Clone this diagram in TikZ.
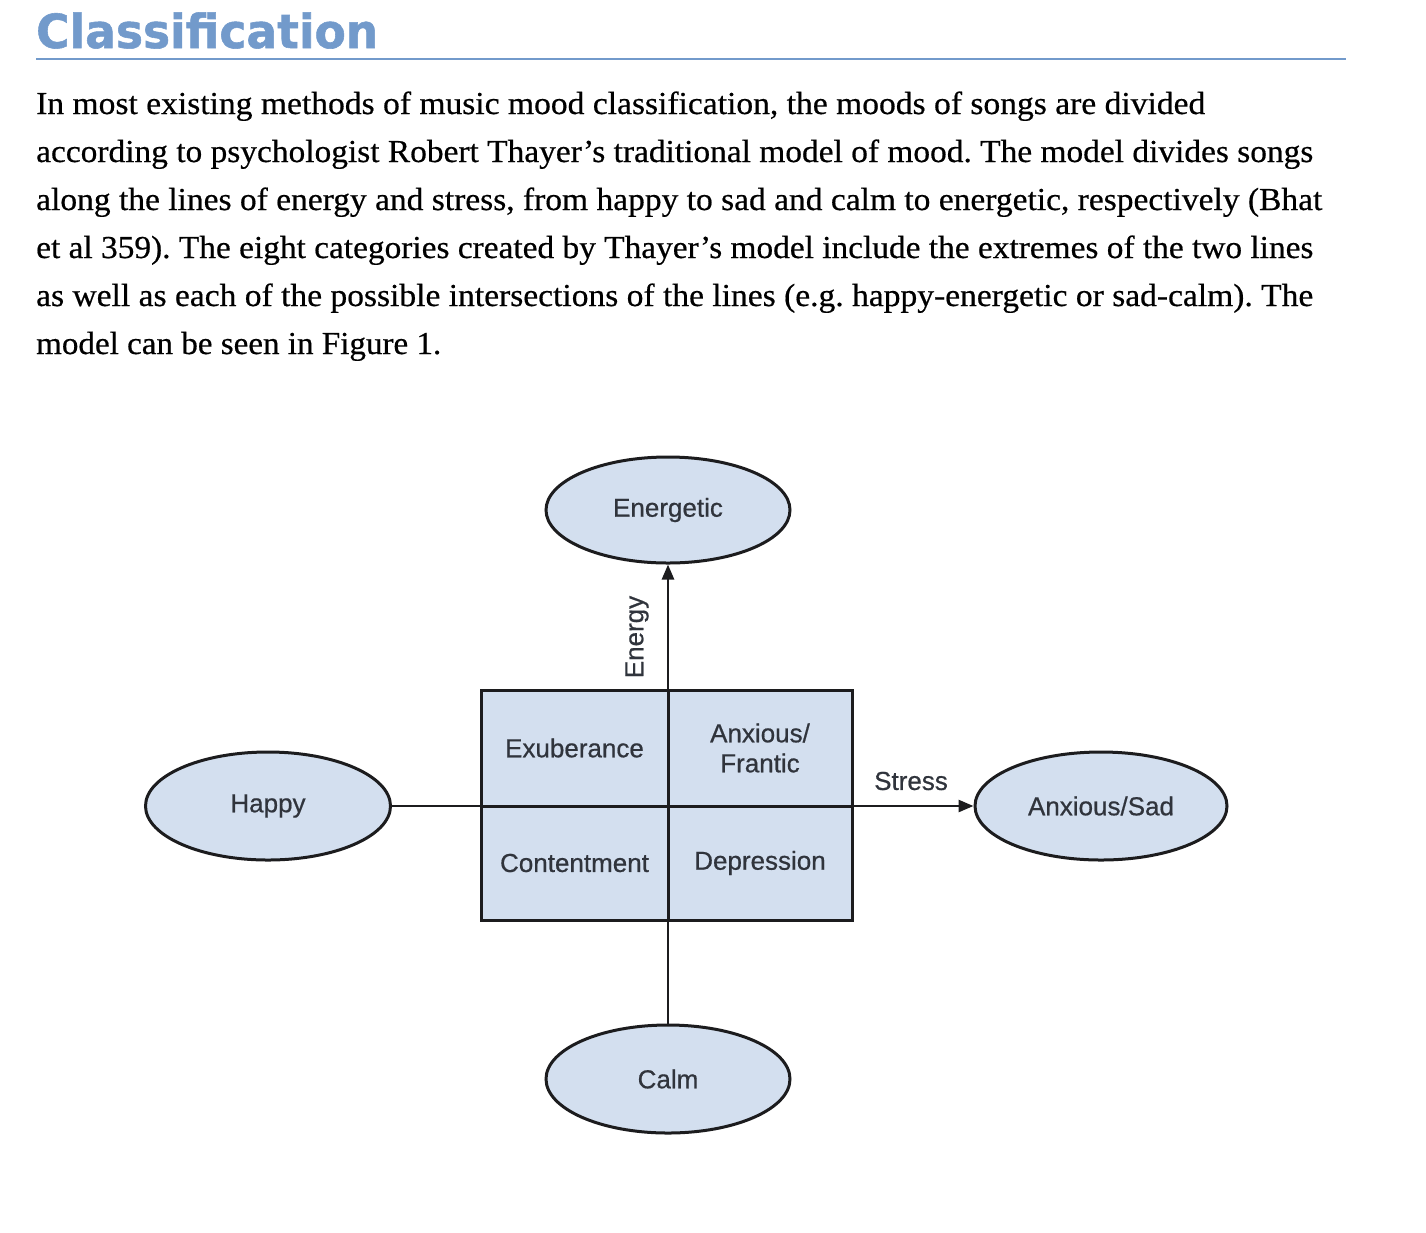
\documentclass[tikz,border=0pt]{standalone}
\usepackage{fontspec}
\usepackage{graphicx}
\usetikzlibrary{shapes.geometric,arrows.meta}
\setmainfont[FakeBold=0.5]{Liberation Serif}
\newfontfamily\titlefont[FakeBold=1.2]{DejaVu Sans Bold}
\newfontfamily\diagfont[FakeBold=0.6]{Liberation Sans}
\definecolor{titleblue}{RGB}{114,154,203}
\definecolor{moodfill}{RGB}{211,223,239}
\definecolor{edgecol}{RGB}{28,28,30}
\definecolor{labelcol}{RGB}{48,52,60}
\newcommand{\fitw}[2]{\resizebox{#1}{\height}{#2}}
\frenchspacing
\tikzset{
  bodyline/.style={anchor=base west, inner sep=0pt, font=\fontsize{32}{38}\selectfont, text=black},
  mood/.style={ellipse, draw=edgecol, line width=3pt, fill=moodfill, inner sep=0pt,
    font=\diagfont\fontsize{26}{30}\selectfont, text=labelcol},
  quad/.style={rectangle, draw=edgecol, line width=3pt, fill=moodfill, inner sep=0pt,
    font=\diagfont\fontsize{26}{30}\selectfont, text=labelcol, align=center},
  axislabel/.style={inner sep=0pt, font=\diagfont\fontsize{26}{30}\selectfont, text=labelcol},
  axis/.style={draw=edgecol, line width=2.6pt},
  axisarrow/.style={axis, -{Triangle[length=15pt,width=12pt]}}
}
\begin{document}
\begin{tikzpicture}[x=1pt,y=-1pt]
\useasboundingbox (0,0) rectangle (1426,1232);
% title
\node[anchor=base west, inner sep=0pt, text=titleblue, font=\titlefont\fontsize{47}{52}\selectfont] (title) at (36,48) {\fitw{342pt}{Classification}};
\coordinate (ruleL) at (36,59);
\coordinate (ruleR) at (1346,59);
\draw[titleblue, line width=2pt] (ruleL) -- (ruleR);
% paragraph
\node[bodyline] (l1) at (36,114) {\fitw{1169pt}{In most existing methods of music mood classification, the moods of songs are divided}};
\node[bodyline] (l2) at (36,162) {\fitw{1277pt}{according to psychologist Robert Thayer’s traditional model of mood. The model divides songs}};
\node[bodyline] (l3) at (36,210) {\fitw{1286pt}{along the lines of energy and stress, from happy to sad and calm to energetic, respectively (Bhat}};
\node[bodyline] (l4) at (36,258) {\fitw{1277pt}{et al 359). The eight categories created by Thayer’s model include the extremes of the two lines}};
\node[bodyline] (l5) at (36,306) {\fitw{1277pt}{as well as each of the possible intersections of the lines (e.g. happy-energetic or sad-calm). The}};
\node[bodyline] (l6) at (36,354) {\fitw{405pt}{model can be seen in Figure 1.}};
% quadrants
\node[quad, minimum width=187pt, minimum height=116pt] (exu) at (574.5,748) {Exuberance};
\node[quad, minimum width=184pt, minimum height=116pt] (fran) at (760,748) {Anxious/\\Frantic};
\node[quad, minimum width=187pt, minimum height=114pt] (cont) at (574.5,863) {Contentment};
\node[quad, minimum width=184pt, minimum height=114pt] (dep) at (760,863) {Depression};
% ellipses
\node[mood, minimum width=244pt, minimum height=106pt] (energetic) at (668,510) {Energetic};
\node[mood, minimum width=245pt, minimum height=108pt] (happy) at (268,806) {Happy};
\node[mood, minimum width=252pt, minimum height=108pt] (sad) at (1101,806) {Anxious/Sad};
\node[mood, minimum width=244pt, minimum height=108pt] (calm) at (668,1079) {Calm};
% axes
\draw[axisarrow] (calm.north) -- (energetic.south);
\draw[axisarrow] (happy.east) -- (sad.west);
% axis labels
\node[axislabel, rotate=90] (energy) at (637,637) {Energy};
\node[axislabel] (stress) at (911,781) {Stress};
\end{tikzpicture}
\end{document}
